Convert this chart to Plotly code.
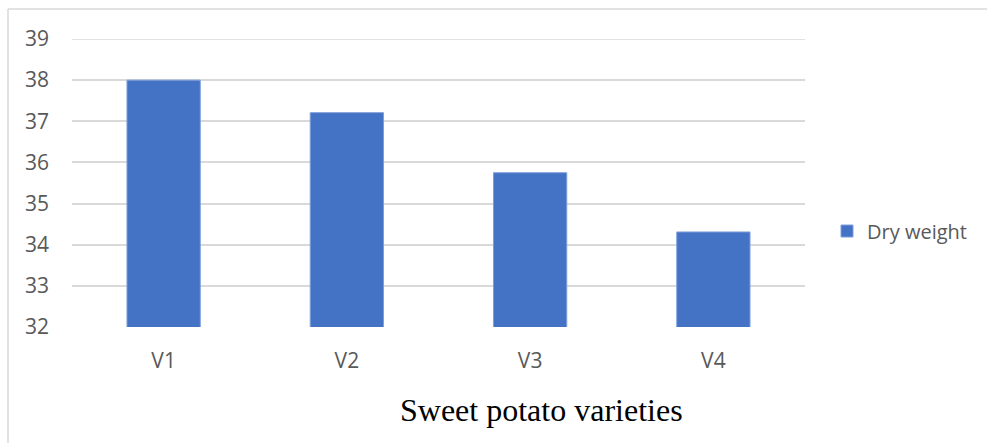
import plotly.graph_objects as go

# Dry weight of four sweet potato varieties
varieties = ["V1", "V2", "V3", "V4"]
dry_weight = [38.0, 37.21, 35.75, 34.31]
y_ticks = [32, 33, 34, 35, 36, 37, 38, 39]

W, H = 987, 443
ML, MR, MT, MB = 72, 182, 39, 116

fig = go.Figure()
fig.add_trace(go.Bar(
    x=varieties,
    y=dry_weight,
    name="Dry weight",
    marker=dict(color="#4472C4", line=dict(color="#7F9FDB", width=1)),
))

plot_w = W - ML - MR
plot_h = H - MT - MB

def px_to_paper_x(px):
    return (px - ML) / plot_w

def px_to_paper_y(py):
    return (H - MB - py) / plot_h

fig.update_layout(
    width=W, height=H,
    margin=dict(l=ML, r=MR, t=MT, b=MB, pad=0),
    paper_bgcolor="white",
    plot_bgcolor="white",
    bargap=0.6,
    font=dict(family="Open Sans", color="#595959"),
    showlegend=True,
    legend=dict(
        x=px_to_paper_x(827), y=px_to_paper_y(231),
        xanchor="left", yanchor="middle",
        font=dict(size=20, color="#595959", family="Open Sans"),
        itemwidth=30,
        bgcolor="rgba(0,0,0,0)",
    ),
    xaxis=dict(
        showgrid=False, zeroline=False, showline=False,
        ticks="", tickfont=dict(size=21, color="#595959"),
        ticklabelstandoff=19,
    ),
    yaxis=dict(
        range=[32, 39], tickvals=y_ticks,
        showgrid=True, gridcolor="#D9D9D9", gridwidth=1.5,
        zeroline=False, showline=False, ticks="",
        tickfont=dict(size=21, color="#595959"),
        ticklabelstandoff=22,
    ),
    shapes=[
        # top gridline at the axis maximum
        dict(type="line", xref="paper", yref="y", layer="below",
             x0=0, x1=1, y0=y_ticks[-1], y1=y_ticks[-1],
             line=dict(color="#D9D9D9", width=1.5)),
        # chart-area border (top and left edges)
        dict(type="line", xref="paper", yref="paper",
             x0=px_to_paper_x(8), x1=px_to_paper_x(990),
             y0=px_to_paper_y(9), y1=px_to_paper_y(9),
             line=dict(color="#D9D9D9", width=1.5)),
        dict(type="line", xref="paper", yref="paper",
             x0=px_to_paper_x(8), x1=px_to_paper_x(8),
             y0=px_to_paper_y(9), y1=px_to_paper_y(450),
             line=dict(color="#D9D9D9", width=1.5)),
    ],
    annotations=[
        dict(text="Sweet potato varieties", xref="paper", yref="paper",
             x=px_to_paper_x(541), y=px_to_paper_y(410),
             xanchor="center", yanchor="middle", showarrow=False,
             font=dict(family="Liberation Serif", size=32, color="black")),
    ],
)

fig.write_html("out.html")
